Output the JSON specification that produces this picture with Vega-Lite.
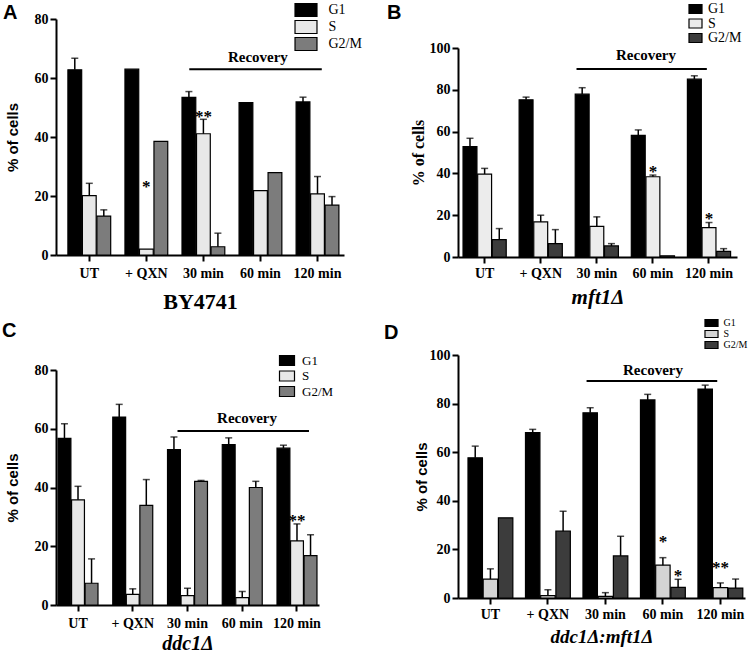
{
  "$schema": "https://vega.github.io/schema/vega-lite/v6.json",
  "background": "white",
  "padding": {"left": 2, "top": 2, "right": 0, "bottom": 0},
  "config": {
    "view": {"stroke": null},
    "axis": {"domainColor": "black", "domainWidth": 2, "tickColor": "black", "tickWidth": 2, "tickSize": 6, "grid": false,
             "labelFont": "Liberation Serif", "labelFontWeight": "bold", "labelFontSize": 14, "labelColor": "black", "titleColor": "black"},
    "axisX": {"labelAngle": 0, "labelPadding": 3, "titleFont": "Liberation Serif", "titleFontWeight": "bold", "titleFontSize": 21},
    "axisY": {"labelPadding": 2, "titleFont": "Liberation Sans", "titleFontWeight": "bold", "titleFontSize": 15},
    "legend": {"orient": "none", "title": null, "padding": 0, "labelFont": "Liberation Serif", "labelColor": "black", "symbolStrokeColor": "black", "symbolStrokeWidth": 1, "symbolOpacity": 1},
    "title": {"anchor": "start", "frame": "group", "font": "Liberation Sans", "fontSize": 20, "fontWeight": "bold", "color": "black", "baseline": "alphabetic"},
    "bar": {"stroke": "black", "strokeWidth": 1.2},
    "text": {"font": "Liberation Serif", "fontWeight": "bold", "color": "black"}
  },
  "datasets": {
    "a": [
      {"cat": "UT", "phase": "G1", "val": 62.8, "hi": 66.7}, {"cat": "UT", "phase": "S", "val": 20.1, "hi": 24.3}, {"cat": "UT", "phase": "G2/M", "val": 13.2, "hi": 15.3},
      {"cat": "+ QXN", "phase": "G1", "val": 63.0, "hi": null}, {"cat": "+ QXN", "phase": "S", "val": 2.0, "hi": null}, {"cat": "+ QXN", "phase": "G2/M", "val": 38.5, "hi": null},
      {"cat": "30 min", "phase": "G1", "val": 53.4, "hi": 55.4}, {"cat": "30 min", "phase": "S", "val": 41.1, "hi": 46.0}, {"cat": "30 min", "phase": "G2/M", "val": 2.8, "hi": 7.4},
      {"cat": "60 min", "phase": "G1", "val": 51.7, "hi": null}, {"cat": "60 min", "phase": "S", "val": 21.8, "hi": null}, {"cat": "60 min", "phase": "G2/M", "val": 27.9, "hi": null},
      {"cat": "120 min", "phase": "G1", "val": 51.9, "hi": 53.5}, {"cat": "120 min", "phase": "S", "val": 20.7, "hi": 26.6}, {"cat": "120 min", "phase": "G2/M", "val": 16.9, "hi": 19.8}
    ],
    "b": [
      {"cat": "UT", "phase": "G1", "val": 52.8, "hi": 56.8}, {"cat": "UT", "phase": "S", "val": 39.7, "hi": 42.4}, {"cat": "UT", "phase": "G2/M", "val": 8.3, "hi": 13.6},
      {"cat": "+ QXN", "phase": "G1", "val": 75.2, "hi": 76.5}, {"cat": "+ QXN", "phase": "S", "val": 16.8, "hi": 20.0}, {"cat": "+ QXN", "phase": "G2/M", "val": 6.4, "hi": 13.1},
      {"cat": "30 min", "phase": "G1", "val": 77.9, "hi": 81.0}, {"cat": "30 min", "phase": "S", "val": 14.7, "hi": 19.2}, {"cat": "30 min", "phase": "G2/M", "val": 5.3, "hi": 6.4},
      {"cat": "60 min", "phase": "G1", "val": 58.2, "hi": 60.8}, {"cat": "60 min", "phase": "S", "val": 38.4, "hi": 39.2}, {"cat": "60 min", "phase": "G2/M", "val": 0.6, "hi": null},
      {"cat": "120 min", "phase": "G1", "val": 85.1, "hi": 86.7}, {"cat": "120 min", "phase": "S", "val": 14.1, "hi": 16.5}, {"cat": "120 min", "phase": "G2/M", "val": 2.7, "hi": 4.0}
    ],
    "c": [
      {"cat": "UT", "phase": "G1", "val": 56.7, "hi": 61.7}, {"cat": "UT", "phase": "S", "val": 35.8, "hi": 40.4}, {"cat": "UT", "phase": "G2/M", "val": 7.4, "hi": 15.7},
      {"cat": "+ QXN", "phase": "G1", "val": 64.0, "hi": 68.3}, {"cat": "+ QXN", "phase": "S", "val": 3.6, "hi": 5.5}, {"cat": "+ QXN", "phase": "G2/M", "val": 33.9, "hi": 42.7},
      {"cat": "30 min", "phase": "G1", "val": 52.9, "hi": 57.2}, {"cat": "30 min", "phase": "S", "val": 3.2, "hi": 5.7}, {"cat": "30 min", "phase": "G2/M", "val": 42.1, "hi": 42.4},
      {"cat": "60 min", "phase": "G1", "val": 54.6, "hi": 56.9}, {"cat": "60 min", "phase": "S", "val": 2.5, "hi": 4.6}, {"cat": "60 min", "phase": "G2/M", "val": 40.0, "hi": 42.1},
      {"cat": "120 min", "phase": "G1", "val": 53.4, "hi": 54.4}, {"cat": "120 min", "phase": "S", "val": 21.8, "hi": 27.6}, {"cat": "120 min", "phase": "G2/M", "val": 16.8, "hi": 23.9}
    ],
    "d": [
      {"cat": "UT", "phase": "G1", "val": 57.7, "hi": 62.5}, {"cat": "UT", "phase": "S", "val": 7.8, "hi": 12.0}, {"cat": "UT", "phase": "G2/M", "val": 33.0, "hi": null},
      {"cat": "+ QXN", "phase": "G1", "val": 68.1, "hi": 69.4}, {"cat": "+ QXN", "phase": "S", "val": 1.0, "hi": 3.4}, {"cat": "+ QXN", "phase": "G2/M", "val": 27.5, "hi": 35.7},
      {"cat": "30 min", "phase": "G1", "val": 76.2, "hi": 78.3}, {"cat": "30 min", "phase": "S", "val": 0.7, "hi": 2.2}, {"cat": "30 min", "phase": "G2/M", "val": 17.3, "hi": 25.4},
      {"cat": "60 min", "phase": "G1", "val": 81.5, "hi": 83.8}, {"cat": "60 min", "phase": "S", "val": 13.5, "hi": 16.6}, {"cat": "60 min", "phase": "G2/M", "val": 4.4, "hi": 7.7},
      {"cat": "120 min", "phase": "G1", "val": 86.0, "hi": 87.6}, {"cat": "120 min", "phase": "S", "val": 4.3, "hi": 6.2}, {"cat": "120 min", "phase": "G2/M", "val": 4.1, "hi": 7.8}
    ],
    "a_marks": [
      {"cat": "+ QXN", "phase": "S", "y": 24.5, "t": "*"},
      {"cat": "30 min", "phase": "S", "y": 48.3, "t": "**"}
    ],
    "b_marks": [
      {"cat": "60 min", "phase": "S", "y": 42.5, "t": "*"},
      {"cat": "120 min", "phase": "S", "y": 20.0, "t": "*"}
    ],
    "c_marks": [
      {"cat": "120 min", "phase": "S", "y": 30.0, "t": "**"}
    ],
    "d_marks": [
      {"cat": "60 min", "phase": "S", "y": 24.5, "t": "*"},
      {"cat": "60 min", "phase": "G2/M", "y": 10.5, "t": "*"},
      {"cat": "120 min", "phase": "S", "y": 14.0, "t": "**"}
    ],
    "a_rec": [{"cat": "30 min", "cat2": "120 min", "y": 63.0, "mid": "60 min", "ty": 67.0, "label": "Recovery"}],
    "b_rec": [{"cat": "30 min", "cat2": "120 min", "y": 90.0, "mid": "60 min", "ty": 96.5, "label": "Recovery"}],
    "c_rec": [{"cat": "30 min", "cat2": "120 min", "y": 59.2, "mid": "60 min", "ty": 63.6, "label": "Recovery"}],
    "d_rec": [{"cat": "30 min", "cat2": "120 min", "y": 89.3, "mid": "60 min", "ty": 94.0, "label": "Recovery"}]
  },
  "spacing": 21,
  "resolve": {"scale": {"color": "independent", "xOffset": "independent"}, "legend": {"color": "independent"}},
  "hconcat": [
    {
      "spacing": 9,
      "resolve": {"scale": {"color": "independent", "xOffset": "independent"}, "legend": {"color": "independent"}},
      "vconcat": [
        {
          "width": 288, "height": 236,
          "title": {"text": "A", "offset": -20.5, "dx": -53},
          "encoding": {
            "x": {"field": "cat", "type": "nominal", "scale": {"domain": ["UT", "+ QXN", "30 min", "60 min", "120 min"], "paddingInner": 0.25, "paddingOuter": 0.149, "align": 0.7},
                  "axis": {"title": "BY4741", "titleFontStyle": "normal", "titleFontSize": 22, "labelPadding": 5, "titlePadding": 11}}
          },
          "layer": [
            {
              "data": {"name": "a"},
              "mark": "bar",
              "encoding": {
                "xOffset": {"field": "phase", "scale": {"domain": ["G1", "S", "G2/M"], "paddingInner": 0.05}},
                "y": {"field": "val", "type": "quantitative", "scale": {"domain": [0, 80], "nice": false},
                      "axis": {"values": [0, 20, 40, 60, 80], "title": "% of cells", "titlePadding": 14}},
                "color": {"field": "phase", "scale": {"domain": ["G1", "S", "G2/M"], "range": ["#000000", "#e8e8e8", "#7c7c7c"]},
                          "legend": {"legendX": 242.5, "legendY": -16.5, "symbolType": "M-1.69,-1H1.69V1H-1.69Z", "symbolSize": 169, "labelFontSize": 14, "labelOffset": 15, "rowPadding": -2.5}}
              }
            },
            {
              "data": {"name": "a"},
              "transform": [{"filter": "datum.hi != null"}],
              "mark": {"type": "rule", "strokeWidth": 1.5, "color": "black"},
              "encoding": {"xOffset": {"field": "phase"}, "y": {"field": "val", "type": "quantitative"}, "y2": {"field": "hi"}}
            },
            {
              "data": {"name": "a"},
              "transform": [{"filter": "datum.hi != null"}],
              "mark": {"type": "tick", "thickness": 1.5, "size": 7, "color": "black"},
              "encoding": {"xOffset": {"field": "phase"}, "y": {"field": "hi", "type": "quantitative"}}
            },
            {
              "data": {"name": "a_marks"},
              "mark": {"type": "text", "fontSize": 17, "baseline": "middle", "dy": 4},
              "encoding": {"xOffset": {"field": "phase"}, "y": {"field": "y", "type": "quantitative"}, "text": {"field": "t"}}
            },
            {
              "data": {"name": "a_rec"},
              "mark": {"type": "rule", "strokeWidth": 2, "color": "black"},
              "encoding": {"x": {"field": "cat", "type": "nominal", "bandPosition": 0.17}, "x2": {"field": "cat2", "bandPosition": 0.6}, "y": {"field": "y", "type": "quantitative"}}
            },
            {
              "data": {"name": "a_rec"},
              "mark": {"type": "text", "fontSize": 15, "baseline": "middle"},
              "encoding": {"x": {"field": "mid", "type": "nominal", "bandPosition": 0.44}, "y": {"field": "ty", "type": "quantitative"}, "text": {"field": "label"}}
            }
          ]
        },
        {
          "width": 263, "height": 235,
          "title": {"text": "C", "offset": 13, "dx": -54},
          "encoding": {
            "x": {"field": "cat", "type": "nominal", "scale": {"domain": ["UT", "+ QXN", "30 min", "60 min", "120 min"], "paddingInner": 0.27, "paddingOuter": 0.037},
                  "axis": {"title": "ddc1Δ", "titleFontStyle": "italic", "titleFontSize": 20, "labelPadding": 5, "titlePadding": 3}}
          },
          "layer": [
            {
              "data": {"name": "c"},
              "mark": "bar",
              "encoding": {
                "xOffset": {"field": "phase", "scale": {"domain": ["G1", "S", "G2/M"], "paddingInner": 0.05}},
                "y": {"field": "val", "type": "quantitative", "scale": {"domain": [0, 80], "nice": false},
                      "axis": {"values": [0, 20, 40, 60, 80], "title": "% of cells", "titlePadding": 14}},
                "color": {"field": "phase", "scale": {"domain": ["G1", "S", "G2/M"], "range": ["#000000", "#e8e8e8", "#7c7c7c"]},
                          "legend": {"legendX": 224.5, "legendY": -16, "symbolType": "M-1.5,-1H1.5V1H-1.5Z", "symbolSize": 100, "labelFontSize": 13, "labelOffset": 8.5, "rowPadding": 0.5}}
              }
            },
            {
              "data": {"name": "c"},
              "transform": [{"filter": "datum.hi != null"}],
              "mark": {"type": "rule", "strokeWidth": 1.5, "color": "black"},
              "encoding": {"xOffset": {"field": "phase"}, "y": {"field": "val", "type": "quantitative"}, "y2": {"field": "hi"}}
            },
            {
              "data": {"name": "c"},
              "transform": [{"filter": "datum.hi != null"}],
              "mark": {"type": "tick", "thickness": 1.5, "size": 7, "color": "black"},
              "encoding": {"xOffset": {"field": "phase"}, "y": {"field": "hi", "type": "quantitative"}}
            },
            {
              "data": {"name": "c_marks"},
              "mark": {"type": "text", "fontSize": 17, "baseline": "middle", "dy": 4},
              "encoding": {"xOffset": {"field": "phase"}, "y": {"field": "y", "type": "quantitative"}, "text": {"field": "t"}}
            },
            {
              "data": {"name": "c_rec"},
              "mark": {"type": "rule", "strokeWidth": 2, "color": "black"},
              "encoding": {"x": {"field": "cat", "type": "nominal", "bandPosition": 0.25}, "x2": {"field": "cat2", "bandPosition": 0.8}, "y": {"field": "y", "type": "quantitative"}}
            },
            {
              "data": {"name": "c_rec"},
              "mark": {"type": "text", "fontSize": 15, "baseline": "middle"},
              "encoding": {"x": {"field": "mid", "type": "nominal", "bandPosition": 0.62}, "y": {"field": "ty", "type": "quantitative"}, "text": {"field": "label"}}
            }
          ]
        }
      ]
    },
    {
      "spacing": 11,
      "resolve": {"scale": {"color": "independent", "xOffset": "independent"}, "legend": {"color": "independent"}},
      "vconcat": [
        {
          "width": 279, "height": 238,
          "title": {"text": "B", "offset": -21, "dx": -71},
          "encoding": {
            "x": {"field": "cat", "type": "nominal", "scale": {"domain": ["UT", "+ QXN", "30 min", "60 min", "120 min"], "paddingInner": 0.23, "paddingOuter": 0.102, "align": 0.44},
                  "axis": {"title": "mft1Δ", "titleFontStyle": "italic", "titleFontSize": 21, "titlePadding": 6}}
          },
          "layer": [
            {
              "data": {"name": "b"},
              "mark": "bar",
              "encoding": {
                "xOffset": {"field": "phase", "scale": {"domain": ["G1", "S", "G2/M"], "paddingInner": 0.05}},
                "y": {"field": "val", "type": "quantitative", "scale": {"domain": [0, 100], "nice": false, "range": [238, 29]},
                      "axis": {"values": [0, 20, 40, 60, 80, 100], "title": "% of cells", "titleFont": "Liberation Serif", "titleFontSize": 16, "titlePadding": 3}},
                "color": {"field": "phase", "scale": {"domain": ["G1", "S", "G2/M"], "range": ["#000000", "#ececec", "#3c3c3c"]},
                          "legend": {"legendX": 230.5, "legendY": -17, "symbolType": "M-1.3,-0.9H1.3V0.9H-1.3Z", "symbolSize": 100, "labelFontSize": 14, "labelOffset": 5.5, "rowPadding": 0.5}}
              }
            },
            {
              "data": {"name": "b"},
              "transform": [{"filter": "datum.hi != null"}],
              "mark": {"type": "rule", "strokeWidth": 1.5, "color": "black"},
              "encoding": {"xOffset": {"field": "phase"}, "y": {"field": "val", "type": "quantitative"}, "y2": {"field": "hi"}}
            },
            {
              "data": {"name": "b"},
              "transform": [{"filter": "datum.hi != null"}],
              "mark": {"type": "tick", "thickness": 1.5, "size": 7, "color": "black"},
              "encoding": {"xOffset": {"field": "phase"}, "y": {"field": "hi", "type": "quantitative"}}
            },
            {
              "data": {"name": "b_marks"},
              "mark": {"type": "text", "fontSize": 17, "baseline": "middle", "dy": 4},
              "encoding": {"xOffset": {"field": "phase"}, "y": {"field": "y", "type": "quantitative"}, "text": {"field": "t"}}
            },
            {
              "data": {"name": "b_rec"},
              "mark": {"type": "rule", "strokeWidth": 2, "color": "black"},
              "encoding": {"x": {"field": "cat", "type": "nominal", "bandPosition": 0.03}, "x2": {"field": "cat2", "bandPosition": 0.45}, "y": {"field": "y", "type": "quantitative"}}
            },
            {
              "data": {"name": "b_rec"},
              "mark": {"type": "text", "fontSize": 15, "baseline": "middle"},
              "encoding": {"x": {"field": "mid", "type": "nominal", "bandPosition": 0.34}, "y": {"field": "ty", "type": "quantitative"}, "text": {"field": "label"}}
            }
          ]
        },
        {
          "width": 287, "height": 243,
          "title": {"text": "D", "offset": -25, "dx": -74},
          "encoding": {
            "x": {"field": "cat", "type": "nominal", "scale": {"domain": ["UT", "+ QXN", "30 min", "60 min", "120 min"], "paddingInner": 0.22, "paddingOuter": 0.106, "align": 0.82},
                  "axis": {"title": "ddc1Δ:mft1Δ", "titleFontStyle": "italic", "titleFontSize": 19, "titlePadding": 6}}
          },
          "layer": [
            {
              "data": {"name": "d"},
              "mark": "bar",
              "encoding": {
                "xOffset": {"field": "phase", "scale": {"domain": ["G1", "S", "G2/M"], "paddingInner": 0.05}},
                "y": {"field": "val", "type": "quantitative", "scale": {"domain": [0, 100], "nice": false},
                      "axis": {"values": [0, 20, 40, 60, 80, 100], "title": "% of cells", "titlePadding": 0}},
                "color": {"field": "phase", "scale": {"domain": ["G1", "S", "G2/M"], "range": ["#000000", "#d4d4d4", "#3c3c3c"]},
                          "legend": {"legendX": 248.5, "legendY": -37, "symbolType": "M-1.63,-0.88H1.63V0.88H-1.63Z", "symbolSize": 64, "labelFontSize": 10, "labelOffset": 7, "rowPadding": -8}}
              }
            },
            {
              "data": {"name": "d"},
              "transform": [{"filter": "datum.hi != null"}],
              "mark": {"type": "rule", "strokeWidth": 1.5, "color": "black"},
              "encoding": {"xOffset": {"field": "phase"}, "y": {"field": "val", "type": "quantitative"}, "y2": {"field": "hi"}}
            },
            {
              "data": {"name": "d"},
              "transform": [{"filter": "datum.hi != null"}],
              "mark": {"type": "tick", "thickness": 1.5, "size": 7, "color": "black"},
              "encoding": {"xOffset": {"field": "phase"}, "y": {"field": "hi", "type": "quantitative"}}
            },
            {
              "data": {"name": "d_marks"},
              "mark": {"type": "text", "fontSize": 17, "baseline": "middle", "dy": 4},
              "encoding": {"xOffset": {"field": "phase"}, "y": {"field": "y", "type": "quantitative"}, "text": {"field": "t"}}
            },
            {
              "data": {"name": "d_rec"},
              "mark": {"type": "rule", "strokeWidth": 2, "color": "black"},
              "encoding": {"x": {"field": "cat", "type": "nominal", "bandPosition": 0.08}, "x2": {"field": "cat2", "bandPosition": 0.43}, "y": {"field": "y", "type": "quantitative"}}
            },
            {
              "data": {"name": "d_rec"},
              "mark": {"type": "text", "fontSize": 15, "baseline": "middle"},
              "encoding": {"x": {"field": "mid", "type": "nominal", "bandPosition": 0.28}, "y": {"field": "ty", "type": "quantitative"}, "text": {"field": "label"}}
            }
          ]
        }
      ]
    }
  ]
}
